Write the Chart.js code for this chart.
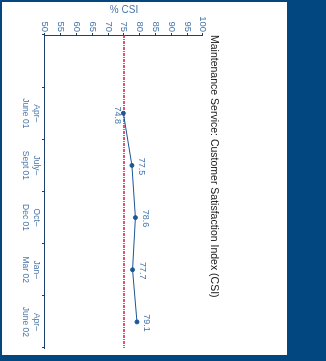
<!DOCTYPE html>
<html><head><meta charset="utf-8">
<script src="https://cdn.jsdelivr.net/npm/chart.js@4"></script>
<style>
html,body{margin:0;padding:0;background:#02477f;width:326px;height:361px;overflow:hidden}
#panel{position:absolute;left:2px;top:2px;width:285px;height:353px;background:#fff;overflow:hidden}
#rot{position:absolute;left:0;top:0;width:353px;height:285px;transform-origin:0 0;transform:translate(285px,0) rotate(90deg)}
canvas{display:block}
</style></head><body>
<div id="panel"><div id="rot"><canvas id="c" width="353" height="285"></canvas></div></div>
<script>
const chartTitle = 'Maintenance Service: Customer Satisfaction Index (CSI)';
const axisTitle = '% CSI';
const categories = ['', ['Apr–','June 01'], ['July–','Sept 01'], ['Oct–','Dec 01'], ['Jan–','Mar 02'], ['Apr–','June 02']];
const csiValues = [null, 74.8, 77.5, 78.6, 77.7, 79.1];
const valueTicks = [50, 55, 60, 65, 70, 75, 80, 85, 90, 95, 100];
const targetValue = 75;
const labelBelow = [false, true, false, false, false, false];

const FONT = '"Liberation Sans", Arial, sans-serif';
const TICK_COLOR = '#4675aa';
const AXIS_COLOR = '#1c3f6e';

const titlePlugin = {
  id: 'sideTitle',
  afterDraw(chart) {
    const ctx = chart.ctx;
    ctx.save();
    ctx.font = '10.5px ' + FONT;
    ctx.fillStyle = '#161616';
    ctx.textAlign = 'left';
    ctx.textBaseline = 'middle';
    ctx.fillText(chartTitle, chart.chartArea.left, 73);
    ctx.restore();
  }
};

const targetPlugin = {
  id: 'targetLine',
  beforeDatasetsDraw(chart) {
    const ctx = chart.ctx, a = chart.chartArea;
    const y = chart.scales.y.getPixelForValue(targetValue);
    ctx.save();
    ctx.strokeStyle = '#e3173f';
    ctx.lineWidth = 1.5;
    ctx.setLineDash([3, 1, 1, 1]);
    ctx.beginPath();
    ctx.moveTo(a.left, y);
    ctx.lineTo(a.right, y);
    ctx.stroke();
    ctx.restore();
  }
};

const labelPlugin = {
  id: 'valueLabels',
  afterDatasetsDraw(chart) {
    const ctx = chart.ctx;
    const meta = chart.getDatasetMeta(0);
    ctx.save();
    ctx.font = '9px ' + FONT;
    ctx.fillStyle = '#4675aa';
    ctx.textAlign = 'center';
    ctx.textBaseline = 'middle';
    meta.data.forEach((pt, i) => {
      const v = csiValues[i];
      if (v === null || v === undefined) return;
      if (labelBelow[i]) ctx.fillText(v.toFixed(1), pt.x + 2, pt.y + 6);
      else ctx.fillText(v.toFixed(1), pt.x + 1, pt.y - 10);
    });
    ctx.restore();
  }
};

new Chart(document.getElementById('c'), {
  type: 'line',
  data: {
    labels: categories,
    datasets: [{
      data: csiValues,
      borderColor: '#1b5796',
      backgroundColor: '#1b5796',
      borderWidth: 1,
      pointRadius: 2,
      pointHoverRadius: 2,
      pointStyle: 'circle',
      tension: 0,
      spanGaps: false
    }]
  },
  options: {
    responsive: false,
    animation: false,
    devicePixelRatio: 1,
    layout: { padding: { top: 84, right: 7, left: 0, bottom: 0 } },
    plugins: { legend: { display: false }, title: { display: false }, tooltip: { enabled: false } },
    scales: {
      x: {
        type: 'category',
        offset: true,
        grid: { offset: true, drawOnChartArea: false, drawTicks: true, tickLength: 3, color: AXIS_COLOR },
        border: { display: true, color: AXIS_COLOR, width: 1 },
        ticks: { color: TICK_COLOR, font: { family: FONT, size: 8.5, lineHeight: 1.3 }, padding: 0, maxRotation: 0, autoSkip: false },
        afterFit(s) { s.height = 43; }
      },
      y: {
        min: 50, max: 100,
        afterBuildTicks(s) { s.ticks = valueTicks.map(v => ({ value: v })); },
        grid: { drawOnChartArea: false, drawTicks: true, tickLength: 2, color: AXIS_COLOR },
        border: { display: true, color: AXIS_COLOR, width: 1 },
        ticks: { color: TICK_COLOR, font: { family: FONT, size: 9.5 }, padding: 1 },
        title: { display: true, text: axisTitle, color: TICK_COLOR, font: { family: FONT, size: 10 }, padding: { top: 2, bottom: 0 } },
        afterFit(s) { s.width = 33; }
      }
    }
  },
  plugins: [titlePlugin, targetPlugin, labelPlugin]
});
</script>
</body></html>
